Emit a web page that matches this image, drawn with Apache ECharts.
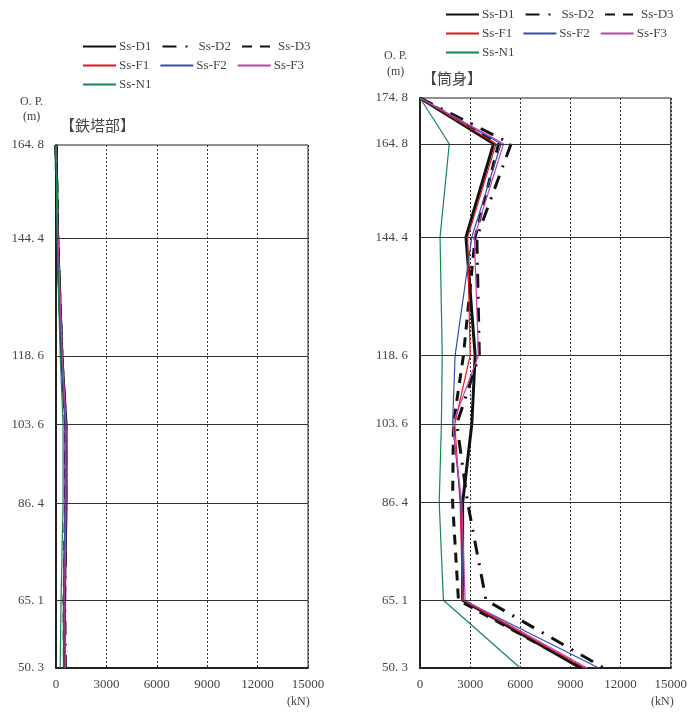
<!DOCTYPE html>
<html>
<head>
<meta charset="utf-8">
<script src="https://cdn.jsdelivr.net/npm/echarts@6/dist/echarts.min.js"></script>
<style>
html,body{margin:0;padding:0;background:#fff;}
#main{width:690px;height:713px;}
</style>
</head>
<body>
<div id="main"></div>
<script>
// ---- data ----
const seriesNames = ['Ss-D1','Ss-D2','Ss-D3','Ss-F1','Ss-F2','Ss-F3','Ss-N1'];

// 鉄塔部 (left)
const towerHeights = [164.8, 144.4, 118.6, 103.6, 86.4, 65.1, 50.3];
const towerD1 = [0, 100, 350, 600, 600, 500, 500];
const towerD2 = [0, 100, 350, 580, 580, 520, 560];
const towerD3 = [0, 100, 350, 560, 560, 480, 500];
const towerF1 = [0, 100, 350, 560, 560, 460, 480];
const towerF2 = [0, 100, 330, 540, 540, 440, 460];
const towerF3 = [0, 120, 380, 600, 600, 520, 560];
const towerN1 = [0, 60, 250, 420, 420, 300, 250];

// 筒身 (right)
const stackHeights = [174.8, 164.8, 144.4, 118.6, 103.6, 86.4, 65.1, 50.3];
const stackD1 = [0, 4400, 2750, 3300, 3100, 2550, 2550, 9600];
const stackD2 = [0, 5450, 3400, 3550, 2200, 2850, 3950, 11000];
const stackD3 = [0, 4700, 3300, 2600, 2000, 1950, 2300, 9700];
const stackF1 = [0, 4550, 2850, 3000, 2080, 2400, 2550, 9850];
const stackF2 = [0, 4850, 3100, 2100, 1950, 2450, 2600, 10700];
const stackF3 = [0, 5000, 3250, 3500, 1950, 2500, 2700, 10000];
const stackN1 = [0, 1750, 1200, 1330, 1280, 1150, 1400, 6000];

const towerTicks = [164.8, 144.4, 118.6, 103.6, 86.4, 65.1, 50.3];
const stackTicks = [174.8, 164.8, 144.4, 118.6, 103.6, 86.4, 65.1, 50.3];

// ---- styles ----
const styles = {
  'Ss-D1': {color:'#111', width:3, type:'solid'},
  'Ss-D2': {color:'#111', width:3, type:[14,9,2,9]},
  'Ss-D3': {color:'#111', width:3, type:[10,8]},
  'Ss-F1': {color:'#e8141c', width:1.2, type:'solid'},
  'Ss-F2': {color:'#2f4fb0', width:1.2, type:'solid'},
  'Ss-F3': {color:'#c23fb4', width:1.2, type:'solid'},
  'Ss-N1': {color:'#16874a', width:1.2, type:'solid'}
};

const FONT = 'Liberation Serif';
const TXT = '#444';

function pairs(xs, ys){ return xs.map((x,i)=>[x, ys[i]]); }
function fmtY(v){ return Number(v).toFixed(1).replace('.', '. '); }

const towerVals = [towerD1,towerD2,towerD3,towerF1,towerF2,towerF3,towerN1];
const stackVals = [stackD1,stackD2,stackD3,stackF1,stackF2,stackF3,stackN1];

const series = [];
function gridLines(idx, ticks){
  series.push({
    type:'line', xAxisIndex:idx, yAxisIndex:idx, data:[], z:1, silent:true,
    markLine:{silent:true, symbol:['none','none'], animation:false, label:{show:false},
      lineStyle:{color:'#333', width:1, type:'solid'},
      data: ticks.map(t=>({yAxis:t}))}
  });
}
gridLines(0, towerTicks.slice(1, -1));
gridLines(1, stackTicks.slice(1, -1));

seriesNames.forEach((n,i)=>{
  const s = styles[n];
  series.push({name:n, type:'line', xAxisIndex:0, yAxisIndex:0, symbol:'none', z:3,
    lineStyle:{color:s.color, width:s.width, type:s.type}, itemStyle:{color:s.color},
    data: pairs(towerVals[i], towerHeights), animation:false});
});
seriesNames.forEach((n,i)=>{
  const s = styles[n];
  series.push({name:n, type:'line', xAxisIndex:1, yAxisIndex:1, symbol:'none', z:3,
    lineStyle:{color:s.color, width:s.width, type:s.type}, itemStyle:{color:s.color},
    data: pairs(stackVals[i], stackHeights), animation:false});
});

function xAx(idx){
  return {type:'value', gridIndex:idx, min:0, max:15000, interval:3000,
    axisLine:{show:true, onZero:false, lineStyle:{color:'#222', width:2}},
    axisTick:{show:false},
    axisLabel:{color:TXT, fontFamily:FONT, fontSize:13, margin:10, formatter:v=>String(v)},
    splitLine:{show:true, lineStyle:{color:'#333', width:1, type:[2,2]}}};
}
function yAx(idx, ticks){
  return {type:'value', gridIndex:idx, min:Math.min(...ticks), max:Math.max(...ticks),
    axisLine:{show:true, onZero:false, lineStyle:{color:'#222', width:2}},
    axisTick:{show:false, customValues:ticks},
    axisLabel:{color:TXT, fontFamily:FONT, fontSize:13, margin:12, customValues:ticks, formatter:fmtY},
    splitLine:{show:false}};
}

function legendRow(left, top, names){
  return {left:left, top:top, padding:0, itemWidth:33, itemHeight:12, itemGap:10,
    data:names, icon:'inherit', selectedMode:false,
    itemStyle:{opacity:0},
    textStyle:{fontFamily:FONT, fontSize:13, color:TXT, padding:[0,0,0,-2]}};
}

const txt = (text,left,top,size,fam)=>({text:text, left:left, top:top, padding:0,
  textStyle:{fontFamily:fam||FONT, fontSize:size, fontWeight:'normal', color:TXT}});

const option = {
  backgroundColor:'#fff',
  animation:false,
  title:[
    txt('【鉄塔部】', 60, 118, 15, 'Noto Sans CJK JP'),
    txt('【筒身】', 422, 71, 15, 'Noto Sans CJK JP'),
    txt('O. P.', 20, 96, 12),
    txt('(m)', 23, 111, 12),
    txt('O. P.', 384, 50, 12),
    txt('(m)', 387, 66, 12),
    txt('(kN)', 287, 696, 12),
    txt('(kN)', 651, 696, 12)
  ],
  legend:[
    legendRow(82, 40, ['Ss-D1','Ss-D2','Ss-D3']),
    legendRow(82, 59, ['Ss-F1','Ss-F2','Ss-F3']),
    legendRow(82, 78, ['Ss-N1']),
    legendRow(445, 8, ['Ss-D1','Ss-D2','Ss-D3']),
    legendRow(445, 27, ['Ss-F1','Ss-F2','Ss-F3']),
    legendRow(445, 46, ['Ss-N1'])
  ],
  grid:[
    {left:56, top:145, width:252, height:523, show:true, borderColor:'#222', borderWidth:1, backgroundColor:'transparent'},
    {left:420, top:98, width:252, height:570, show:true, borderColor:'#222', borderWidth:1, backgroundColor:'transparent'}
  ],
  xAxis:[xAx(0), xAx(1)],
  yAxis:[yAx(0, towerTicks), yAx(1, stackTicks)],
  series: series
};

const chart = echarts.init(document.getElementById('main'), null, {renderer:'canvas'});
chart.setOption(option);
</script>
</body>
</html>
